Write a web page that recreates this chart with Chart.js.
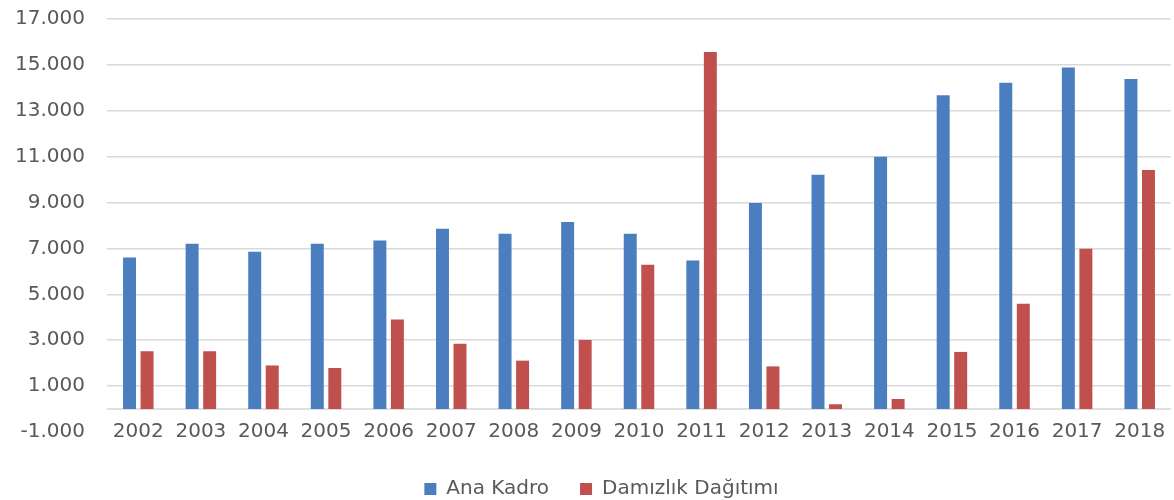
<!DOCTYPE html>
<html>
<head>
<meta charset="utf-8">
<script src="https://cdn.jsdelivr.net/npm/chart.js@4"></script>
<style>
html,body{margin:0;padding:0;background:#fff;}
#wrap{width:1174px;height:500px;}
</style>
</head>
<body>
<div id="wrap"><canvas id="c" width="1174" height="500"></canvas></div>
<script>
const categories = ['2002','2003','2004','2005','2006','2007','2008','2009','2010','2011','2012','2013','2014','2015','2016','2017','2018'];
const anaKadro = [6600,7200,6860,7200,7350,7860,7640,8150,7640,6480,8980,10210,11000,13680,14220,14890,14380];
const damizlik = [2520,2520,1900,1790,3900,2850,2110,3010,6290,15560,1860,210,440,2490,4590,6990,10420];
const yTickValues = [-1000,1000,3000,5000,7000,9000,11000,13000,15000,17000];

const zeroLine = {
  id:'zeroLine',
  beforeDatasetsDraw(chart){
    const y = chart.scales.y.getPixelForValue(0);
    const ctx = chart.ctx, a = chart.chartArea;
    ctx.save();
    ctx.strokeStyle = '#d4d4d4';
    ctx.lineWidth = 1.5;
    ctx.beginPath();
    ctx.moveTo(a.left, y);
    ctx.lineTo(a.right, y);
    ctx.stroke();
    ctx.restore();
  }
};

const legendShift = {
  id:'legendShift',
  afterLayout(chart){
    const l = chart.legend;
    if (!l) return;
    l.left += 9; l.right += 9;
    l.top += 3; l.bottom += 3;
  }
};

new Chart(document.getElementById('c'), {
  type:'bar',
  data:{
    labels:categories,
    datasets:[
      {label:'Ana Kadro', data:anaKadro, backgroundColor:'#4a7ebf', categoryPercentage:0.56, barPercentage:0.74},
      {label:'Damızlık Dağıtımı', data:damizlik, backgroundColor:'#c0504d', categoryPercentage:0.56, barPercentage:0.74}
    ]
  },
  options:{
    responsive:false,
    animation:false,
    devicePixelRatio:1,
    layout:{padding:{top:19, left:14, right:3, bottom:-6}},
    font:{family:'DejaVu Sans'},
    plugins:{
      legend:{
        position:'bottom',
        labels:{color:'#595959', font:{family:'DejaVu Sans', size:20}, boxWidth:12, boxHeight:12, padding:31}
      },
      tooltip:{enabled:false}
    },
    scales:{
      x:{
        grid:{display:false, drawTicks:false},
        border:{display:false},
        afterFit(s){ s.height = 13; s.paddingLeft = 0; s.paddingRight = 0; },
        ticks:{color:'#595959', font:{family:'DejaVu Sans', size:20}, mirror:true, padding:-12, maxRotation:0, autoSkip:false}
      },
      y:{
        min:-1000, max:17000,
        afterBuildTicks(s){ s.ticks = yTickValues.map(v=>({value:v})); },
        afterFit(s){ s.width = 93; s.paddingTop = 0; s.paddingBottom = 0; },
        grid:{drawTicks:false, lineWidth:1.5, color:(c)=> c.tick && c.tick.value === -1000 ? 'rgba(0,0,0,0)' : '#d9d9d9'},
        border:{display:false},
        ticks:{color:'#595959', font:{family:'DejaVu Sans', size:20}, padding:22,
          callback:(v)=> v.toLocaleString('de-DE')}
      }
    }
  },
  plugins:[zeroLine, legendShift]
});
</script>
</body>
</html>
